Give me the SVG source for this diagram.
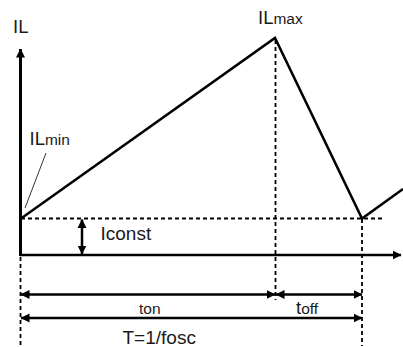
<svg xmlns="http://www.w3.org/2000/svg" width="403" height="347" viewBox="0 0 403 347">
<style>
text{font-family:"Liberation Sans",Arial,sans-serif;fill:#1a1a1a}
.b{font-size:18.5px}.s{font-size:15.500px}.l{font-size:19px}
.d{fill:none;stroke:#000;stroke-width:1.800;stroke-dasharray:4 3}
.a{fill:none;stroke:#000;stroke-width:2.500}
.w{fill:none;stroke:#000;stroke-width:2.500;stroke-linejoin:miter}
.h{fill:#000;stroke:none}
</style>
<defs>
<marker id="m" markerUnits="userSpaceOnUse" markerWidth="9" markerHeight="10" refX="8.500" refY="5" orient="auto-start-reverse"><path class="h" d="M0 0.500L9 5L0 9.500Z"/></marker>
</defs>
<rect width="403" height="347" fill="#fff"/>
<g id="connectors">
<path class="a" style="stroke-width:3" d="M20.500 256V49" marker-end="url(#m)"/>
<path class="a" d="M20 255H401" marker-end="url(#m)"/>
<path class="d" d="M21 218.500H384"/>
<path class="d" d="M275.500 40V300"/>
<path class="d" d="M362 219V346"/>
<path class="d" d="M20.500 257V347"/>
<path class="w" d="M21 218.500L275 38L362 218.500L403 189"/>
<path fill="none" stroke="#000" stroke-width="0.800" d="M46 153L25 208"/>
<path class="a" d="M82 219.500V254" marker-start="url(#m)" marker-end="url(#m)"/>
<path class="a" d="M21 294.500H275" marker-start="url(#m)" marker-end="url(#m)"/>
<path class="a" d="M276 294.500H362" marker-start="url(#m)" marker-end="url(#m)"/>
<path class="a" d="M21 318H362" marker-start="url(#m)" marker-end="url(#m)"/>
</g>
<g id="label-il"><text class="b" x="13" y="33">IL</text></g>
<g id="label-ilmin"><text x="29.500" y="145"><tspan class="b">IL</tspan><tspan class="s">min</tspan></text></g>
<g id="label-ilmax"><text x="258" y="24"><tspan class="b">IL</tspan><tspan class="s">max</tspan></text></g>
<g id="label-iconst"><text class="l" x="100.500" y="239.500">Iconst</text></g>
<g id="label-ton"><text class="s" x="139" y="313.500">ton</text></g>
<g id="label-toff"><text x="296" y="313.500"><tspan class="b">t</tspan><tspan class="s">off</tspan></text></g>
<g id="label-t"><text class="l" x="122.500" y="343.500">T=1/fosc</text></g>
</svg>
